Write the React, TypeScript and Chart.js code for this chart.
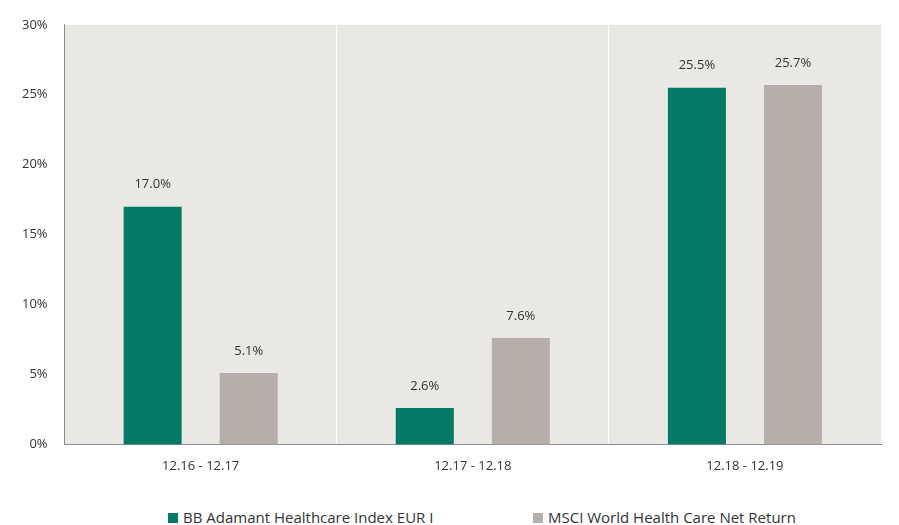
import React, { useEffect, useRef } from "react";
import { Chart, registerables } from "chart.js";

Chart.register(...registerables);

const categories = ["12.16 - 12.17", "12.17 - 12.18", "12.18 - 12.19"];
const seriesNames = ["BB Adamant Healthcare Index EUR I", "MSCI World Health Care Net Return"];
const bbValues = [17.0, 2.6, 25.5];
const msciValues = [5.1, 7.6, 25.7];
const seriesColors = ["#037A66", "#B6AEA8"];
const yTicks = [0, 5, 10, 15, 20, 25, 30];

const FONT = "'Open Sans', sans-serif";
const TEXT = "#333333";

export default function App() {
  const ref = useRef<HTMLCanvasElement | null>(null);

  useEffect(() => {
    if (!ref.current) return;
    const bgPlugin = {
      id: "bg",
      beforeDraw(chart: any) {
        const { ctx, chartArea } = chart;
        ctx.save();
        ctx.fillStyle = "#EAE8E4";
        ctx.fillRect(chartArea.left, chartArea.top, chartArea.right - chartArea.left, chartArea.bottom - chartArea.top);
        ctx.restore();
      },
    };
    const labelPlugin = {
      id: "vals",
      afterDatasetsDraw(chart: any) {
        const { ctx } = chart;
        ctx.save();
        ctx.font = `13px ${FONT}`;
        ctx.fillStyle = TEXT;
        ctx.textAlign = "center";
        ctx.textBaseline = "middle";
        chart.data.datasets.forEach((ds: any, di: number) => {
          const meta = chart.getDatasetMeta(di);
          meta.data.forEach((el: any, i: number) => {
            ctx.fillText(Number(ds.data[i]).toFixed(1) + "%", el.x, el.y - 22);
          });
        });
        ctx.restore();
      },
    };
    const chart = new Chart(ref.current, {
      type: "bar",
      data: {
        labels: categories,
        datasets: [
          { label: seriesNames[0], data: bbValues, backgroundColor: seriesColors[0], categoryPercentage: 0.706, barPercentage: 0.604 },
          { label: seriesNames[1], data: msciValues, backgroundColor: seriesColors[1], categoryPercentage: 0.706, barPercentage: 0.604 },
        ],
      },
      options: {
        animation: false,
        responsive: false,
        layout: { padding: { left: 5, right: 18, top: 23, bottom: 0 } },
        plugins: { legend: { display: false }, tooltip: { enabled: false } },
        scales: {
          x: {
            grid: { display: true, offset: true, color: "#FFFFFF", lineWidth: 1, drawTicks: false },
            border: { display: true, color: "#8C8C8C", width: 1 },
            ticks: { color: TEXT, font: { family: FONT, size: 13 }, padding: 14 },
          },
          y: {
            min: 0,
            max: 30,
            afterBuildTicks(scale: any) {
              scale.ticks = yTicks.map((v) => ({ value: v }));
            },
            grid: { display: false, drawTicks: false },
            border: { display: true, color: "#8C8C8C", width: 1 },
            ticks: { color: TEXT, font: { family: FONT, size: 13 }, padding: 17, callback: (v: any) => v + "%" },
          },
        },
      },
      plugins: [bgPlugin, labelPlugin],
    });
    return () => chart.destroy();
  }, []);

  const legendItem = (i: number, left: number) => (
    <div
      style={{
        position: "absolute",
        left,
        top: 508,
        display: "flex",
        alignItems: "center",
        fontFamily: FONT,
        fontSize: 15,
        color: TEXT,
        whiteSpace: "nowrap",
        lineHeight: "18px",
      }}
    >
      <span style={{ display: "inline-block", width: 10, height: 10, background: seriesColors[i], marginRight: 5, marginTop: 2 }} />
      <span>{seriesNames[i]}</span>
    </div>
  );

  return (
    <div style={{ position: "fixed", left: 0, top: 0, width: 899, height: 525, background: "#fff", overflow: "hidden" }}>
      <canvas ref={ref} width={899} height={488} style={{ position: "absolute", left: 0, top: 0, width: 899, height: 488 }} />
      {legendItem(0, 168)}
      {legendItem(1, 533)}
    </div>
  );
}
